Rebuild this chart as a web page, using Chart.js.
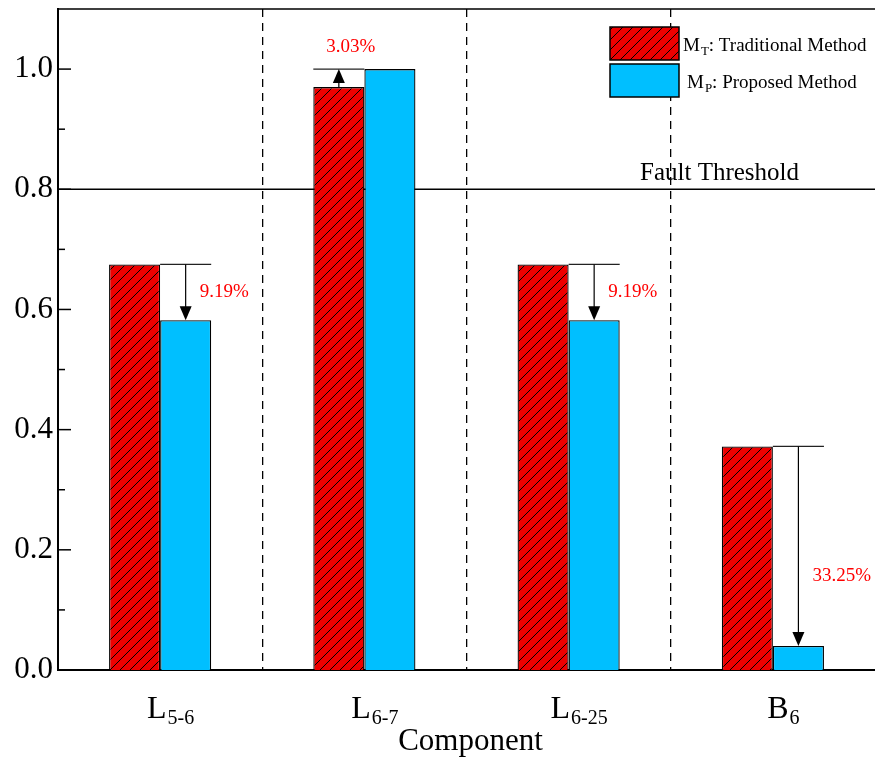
<!DOCTYPE html>
<html>
<head>
<meta charset="utf-8">
<script src="https://cdn.jsdelivr.net/npm/chart.js@4/dist/chart.umd.min.js"></script>
<style>
  html, body { margin: 0; padding: 0; background: #fff; }
</style>
</head>
<body>
<canvas id="chart" width="875" height="757"></canvas>
<script>
// data
const components = ['L', 'L', 'L', 'B'];
const componentSubs = ['5-6', '6-7', '6-25', '6'];
const traditional = [0.675, 0.970, 0.675, 0.372];
const proposed = [0.582, 1.000, 0.582, 0.040];
const changeLabels = ['9.19%', '3.03%', '9.19%', '33.25%'];
const threshold = 0.8;
const thresholdLabel = 'Fault Threshold';
const seriesNames = [['M', 'T', ': Traditional Method'], ['M', 'P', ': Proposed Method']];
const axisTitle = 'Component';

const SERIF = "'Liberation Serif', 'Times New Roman', serif";
const RED = '#ee0000';
const BLUE = '#00bfff';

function hatch() {
  const s = 10;
  const c = document.createElement('canvas');
  c.width = s; c.height = s;
  const g = c.getContext('2d');
  g.fillStyle = RED;
  g.fillRect(0, 0, s, s);
  g.strokeStyle = '#000';
  g.lineWidth = 1;
  g.beginPath();
  g.moveTo(-1, s + 1); g.lineTo(s + 1, -1);
  g.moveTo(-1, 1); g.lineTo(1, -1);
  g.moveTo(s - 1, s + 1); g.lineTo(s + 1, s - 1);
  g.stroke();
  return g.createPattern(c, 'repeat');
}
const redHatch = hatch();

function subText(ctx, x, y, parts, size, subSize, align) {
  ctx.font = size + 'px ' + SERIF;
  const w0 = ctx.measureText(parts[0]).width;
  const w2 = parts[2] ? ctx.measureText(parts[2]).width : 0;
  ctx.font = subSize + 'px ' + SERIF;
  const w1 = ctx.measureText(parts[1]).width;
  const sx = align === 'center' ? x - (w0 + w1 + w2) / 2 : x;
  ctx.textAlign = 'left';
  ctx.textBaseline = 'alphabetic';
  ctx.font = size + 'px ' + SERIF;
  ctx.fillText(parts[0], sx, y);
  ctx.font = subSize + 'px ' + SERIF;
  ctx.fillText(parts[1], sx + w0 + 1, y + size * 0.19);
  if (parts[2]) {
    ctx.font = size + 'px ' + SERIF;
    ctx.fillText(parts[2], sx + w0 + w1 + 1, y);
  }
}

function arrow(ctx, x, y0, y1) {
  const dir = y1 > y0 ? 1 : -1;
  ctx.beginPath();
  ctx.moveTo(x, y0);
  ctx.lineTo(x, y1 - dir * 12);
  ctx.stroke();
  ctx.beginPath();
  ctx.moveTo(x, y1);
  ctx.lineTo(x - 6, y1 - dir * 14);
  ctx.lineTo(x + 6, y1 - dir * 14);
  ctx.closePath();
  ctx.fill();
}

const decorations = {
  id: 'decorations',
  beforeDatasetsDraw(chart) {
    const { ctx, chartArea: a, scales: { y } } = chart;
    const ty = y.getPixelForValue(threshold);
    ctx.save();
    ctx.strokeStyle = '#000';
    ctx.lineWidth = 1.5;
    ctx.beginPath();
    ctx.moveTo(a.left, ty); ctx.lineTo(a.right, ty);
    ctx.moveTo(a.left, a.top); ctx.lineTo(a.right, a.top);
    ctx.stroke();
    ctx.fillStyle = '#000';
    ctx.font = '25px ' + SERIF;
    ctx.textAlign = 'left';
    ctx.textBaseline = 'alphabetic';
    ctx.fillText(thresholdLabel, a.right - 235, ty - 9);
    ctx.restore();
  },
  afterDatasetsDraw(chart) {
    const { ctx, chartArea: a, scales: { y } } = chart;
    ctx.save();
    // inward ticks on the y axis
    ctx.strokeStyle = '#000';
    ctx.lineWidth = 1.5;
    y.ticks.forEach(t => {
      if (t.value <= 0 || t.value >= y.max - 1e-9) return;
      const py = y.getPixelForValue(t.value);
      const len = Math.round(t.value * 10) % 2 === 0 ? 13 : 7;
      ctx.beginPath();
      ctx.moveTo(a.left, py); ctx.lineTo(a.left + len, py);
      ctx.stroke();
    });

    // change arrows
    const rMeta = chart.getDatasetMeta(0).data;
    const bMeta = chart.getDatasetMeta(1).data;
    ctx.lineWidth = 1.2;
    changeLabels.forEach((lab, i) => {
      const r = rMeta[i], b = bMeta[i];
      const w = b.width;
      ctx.strokeStyle = '#222';
      ctx.fillStyle = '#000';
      ctx.font = '19px ' + SERIF;
      if (proposed[i] < traditional[i]) {
        ctx.beginPath();
        ctx.moveTo(b.x - w / 2, r.y); ctx.lineTo(b.x + w / 2, r.y);
        ctx.stroke();
        ctx.strokeStyle = '#000';
        arrow(ctx, b.x, r.y, b.y);
        const frac = (b.y - r.y) > 120 ? 0.65 : 0.5;
        ctx.fillStyle = '#ff0000';
        ctx.textAlign = 'left';
        ctx.textBaseline = 'middle';
        ctx.fillText(lab, b.x + 14, r.y + (b.y - r.y) * frac);
      } else {
        ctx.beginPath();
        ctx.moveTo(r.x - w / 2, b.y); ctx.lineTo(r.x + w / 2, b.y);
        ctx.stroke();
        ctx.strokeStyle = '#000';
        arrow(ctx, r.x, r.y, b.y);
        ctx.fillStyle = '#ff0000';
        ctx.textAlign = 'center';
        ctx.textBaseline = 'middle';
        ctx.fillText(lab, r.x + 12, b.y - 22);
      }
    });

    // legend
    const lx = a.right - 265;
    [redHatch, BLUE].forEach((fill, i) => {
      const top = a.top + 18 + i * 37;
      ctx.fillStyle = fill;
      ctx.fillRect(lx, top, 69, 33);
      ctx.strokeStyle = '#000';
      ctx.lineWidth = 1.5;
      ctx.strokeRect(lx, top, 69, 33);
      ctx.fillStyle = '#000';
      subText(ctx, lx + 73 + i * 4, top + 24, seriesNames[i], 19, 13, 'left');
    });
    ctx.restore();
  },
  afterDraw(chart) {
    const { ctx, chartArea: a, scales: { x } } = chart;
    ctx.save();
    ctx.fillStyle = '#000';
    components.forEach((c, i) => {
      subText(ctx, x.getPixelForValue(i) + 10, a.bottom + 48, [c, componentSubs[i]], 32, 20, 'center');
    });
    ctx.font = '31px ' + SERIF;
    ctx.textAlign = 'center';
    ctx.textBaseline = 'alphabetic';
    ctx.fillText(axisTitle, (a.left + a.right) / 2 + 4, a.bottom + 80);
    ctx.restore();
  }
};

new Chart(document.getElementById('chart'), {
  type: 'bar',
  data: {
    labels: components.map((c, i) => c + componentSubs[i]),
    datasets: [
      {
        label: 'Traditional Method',
        data: traditional,
        backgroundColor: redHatch,
        borderColor: '#000',
        borderWidth: 1.3,
        categoryPercentage: 0.5,
        barPercentage: 1.0
      },
      {
        label: 'Proposed Method',
        data: proposed,
        backgroundColor: BLUE,
        borderColor: '#000',
        borderWidth: 1.3,
        categoryPercentage: 0.5,
        barPercentage: 1.0
      }
    ]
  },
  options: {
    responsive: false,
    animation: false,
    layout: { padding: { top: 9, right: 0, left: 0, bottom: 0 } },
    plugins: {
      legend: { display: false },
      tooltip: { enabled: false }
    },
    scales: {
      x: {
        offset: true,
        grid: {
          display: true,
          offset: true,
          // only the separators between components, not the outer edges
          color: c => (c.type === 'tick' && c.index > 0) ? '#000' : 'rgba(0,0,0,0)',
          lineWidth: 1.3,
          drawTicks: false
        },
        border: { display: true, color: '#000', width: 2, dash: [8, 6] },
        ticks: { display: false },
        afterFit(scale) { scale.height = 87; }
      },
      y: {
        min: 0,
        max: 1.1,
        grid: { display: false, drawTicks: false, tickLength: 0 },
        border: { display: true, color: '#000', width: 2 },
        ticks: {
          stepSize: 0.1,
          color: '#000',
          padding: 5,
          font: { family: SERIF, size: 31 },
          callback: v => Math.round(v * 10) % 2 === 0 ? v.toFixed(1) : ''
        },
        afterFit(scale) {
          scale.width = 58;
          scale.paddingTop = 0;
          scale.paddingBottom = 0;
        }
      }
    }
  },
  plugins: [decorations]
});
</script>
</body>
</html>
